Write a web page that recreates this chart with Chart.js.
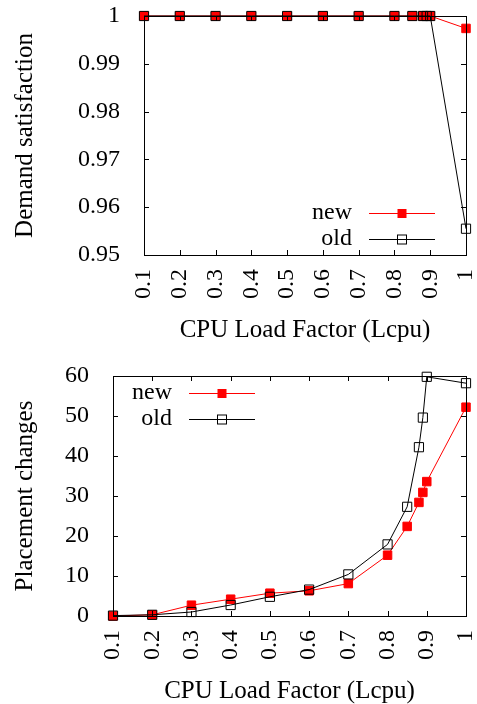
<!DOCTYPE html>
<html lang="en">
<head>
  <meta charset="UTF-8">
  <title>CPU Load Factor</title>
  <script src="https://cdn.jsdelivr.net/npm/chart.js"></script>
  <style>
    body { margin: 0; background: #fff; }
    canvas { display: block; }
  </style>
</head>
<body>
  <canvas id="demandChart" width="477" height="350"></canvas>
  <canvas id="placementChart" width="477" height="354"></canvas>

  <script>
    // x values (CPU load factor)
    const loadFactor = [0.1, 0.2, 0.3, 0.4, 0.5, 0.6, 0.7, 0.8, 0.85, 0.88, 0.89, 0.9, 1.0];

    // Demand satisfaction
    const demandNew = [1, 1, 1, 1, 1, 1, 1, 1, 1, 1, 1, 1, 0.9974];
    const demandOld = [1, 1, 1, 1, 1, 1, 1, 1, 1, 1, 1, 1, 0.9555];

    // Placement changes
    const placeNew = [0, 0.3, 2.7, 4.2, 5.7, 6.3, 8.1, 15.2, 22.4, 28.4, 30.9, 33.6, 52.2];
    const placeOld = [0.1, 0.3, 1.0, 2.75, 4.8, 6.6, 10.4, 17.9, 27.3, 42.2, 49.6, 59.8, 58.2];

    const xTicks = [0.1, 0.2, 0.3, 0.4, 0.5, 0.6, 0.7, 0.8, 0.9, 1];
    const demandTicks = [0.95, 0.96, 0.97, 0.98, 0.99, 1];
    const placeTicks = [0, 10, 20, 30, 40, 50, 60];

    const FONT = "'Liberation Serif', 'Times New Roman', serif";
    Chart.defaults.font.family = FONT;
    Chart.defaults.color = '#000';

    const pts = (ys) => ys.map((y, i) => ({ x: loadFactor[i], y }));

    // gnuplot-style frame with ticks pointing inwards on all four sides
    const framePlugin = {
      id: 'frame',
      afterDraw(chart) {
        const { ctx, chartArea: a, scales } = chart;
        const len = 5;
        ctx.save();
        ctx.strokeStyle = '#000';
        ctx.lineWidth = 1;
        ctx.beginPath();
        scales.x.ticks.forEach(t => {
          const px = Math.round(scales.x.getPixelForValue(t.value)) + 0.5;
          ctx.moveTo(px, a.bottom); ctx.lineTo(px, a.bottom - len);
          ctx.moveTo(px, a.top); ctx.lineTo(px, a.top + len);
        });
        scales.y.ticks.forEach(t => {
          const py = Math.round(scales.y.getPixelForValue(t.value)) + 0.5;
          ctx.moveTo(a.left, py); ctx.lineTo(a.left + len, py);
          ctx.moveTo(a.right, py); ctx.lineTo(a.right - len, py);
        });
        ctx.stroke();
        ctx.strokeRect(Math.round(a.left) + 0.5, Math.round(a.top) + 0.5,
          Math.round(a.right - a.left), Math.round(a.bottom - a.top));
        ctx.restore();
      }
    };

    // legend drawn like gnuplot: label, then a line sample with the marker
    const keyPlugin = {
      id: 'key',
      afterDraw(chart, args, opts) {
        const { ctx, chartArea: a } = chart;
        const tx = opts.right ? a.right - opts.dx : a.left + opts.dx;
        ctx.save();
        ctx.font = '24px ' + FONT;
        ctx.textAlign = 'right';
        ctx.textBaseline = 'middle';
        const order = [1, 0];
        order.forEach((di, row) => {
          const ds = chart.data.datasets[di];
          const y = (opts.right ? a.bottom - opts.dy : a.top + opts.dy) + row * 26;
          ctx.fillStyle = '#000';
          ctx.fillText(ds.label, tx, y);
          ctx.strokeStyle = ds.borderColor;
          ctx.lineWidth = 1;
          ctx.beginPath();
          ctx.moveTo(tx + 17, y + 0.5); ctx.lineTo(tx + 83, y + 0.5);
          ctx.stroke();
          const s = 9;
          const mx = tx + 50;
          if (ds.pointBackgroundColor !== 'rgba(0,0,0,0)') {
            ctx.fillStyle = ds.pointBackgroundColor;
            ctx.fillRect(mx - s / 2, y - s / 2 + 0.5, s, s);
          } else {
            ctx.strokeStyle = '#000';
            ctx.strokeRect(mx - s / 2, y - s / 2 + 0.5, s, s);
          }
        });
        ctx.restore();
      }
    };

    const noPad = s => { s.paddingLeft = 0; s.paddingRight = 0; s.paddingTop = 0; s.paddingBottom = 0; };

    function makeChart(id, newData, oldData, yMin, yMax, yStep, yTitle, yWidth, xHeight, xTitlePad, padTop, key) {
      return new Chart(document.getElementById(id), {
        type: 'line',
        data: {
          datasets: [
            { label: 'old', data: pts(oldData), borderColor: '#000', borderWidth: 1,
              pointStyle: 'rect', pointRadius: 6.5, pointHoverRadius: 6.5,
              pointBackgroundColor: 'rgba(0,0,0,0)', pointBorderColor: '#000', pointBorderWidth: 1,
              clip: false },
            { label: 'new', data: pts(newData), borderColor: '#ff0000', borderWidth: 1,
              pointStyle: 'rect', pointRadius: 6, pointHoverRadius: 6,
              pointBackgroundColor: '#ff0000', pointBorderColor: '#ff0000', pointBorderWidth: 1,
              clip: false }
          ]
        },
        options: {
          responsive: false,
          animation: false,
          layout: { padding: { top: padTop, right: 11, left: 0, bottom: 0 } },
          plugins: { legend: { display: false }, tooltip: { enabled: false }, key },
          scales: {
            x: {
              type: 'linear', min: 0.1, max: 1,
              afterBuildTicks: s => { s.ticks = xTicks.map(v => ({ value: v })); },
              afterFit: s => { s.height = xHeight; noPad(s); },
              grid: { display: false },
              border: { display: false },
              ticks: { minRotation: 90, maxRotation: 90, padding: 6,
                font: { family: FONT, size: 24 }, callback: v => String(Math.round(v * 10) / 10) },
              title: { display: true, text: 'CPU Load Factor (Lcpu)',
                font: { family: FONT, size: 25, lineHeight: 1 }, padding: { top: 0, bottom: xTitlePad } }
            },
            y: {
              min: yMin, max: yMax,
              afterBuildTicks: s => { s.ticks = yStep.map(v => ({ value: v })); },
              afterFit: s => { s.width = yWidth; noPad(s); },
              grid: { display: false },
              border: { display: false },
              ticks: { padding: 16, font: { family: FONT, size: 24 },
                callback: v => String(Math.round(v * 100) / 100) },
              title: { display: true, text: yTitle,
                font: { family: FONT, size: 25, lineHeight: 1 }, padding: { top: 13, bottom: 0 } }
            }
          }
        },
        plugins: [framePlugin, keyPlugin]
      });
    }

    makeChart('demandChart', demandNew, demandOld, 0.95, 1, demandTicks,
      'Demand satisfaction', 144, 95, 7.5, 16, { right: true, dx: 114, dy: 42 });
    makeChart('placementChart', placeNew, placeOld, 0, 60, placeTicks,
      'Placement changes', 113, 88, 0.5, 26, { right: false, dx: 59, dy: 17 });
  </script>
</body>
</html>
